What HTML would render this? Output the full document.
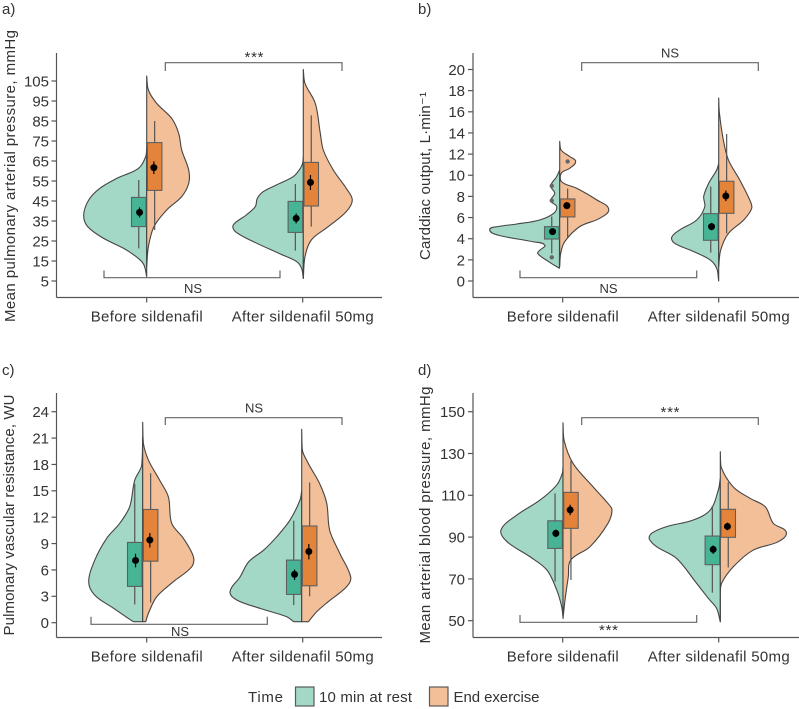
<!DOCTYPE html>
<html lang="en">
<head>
<meta charset="utf-8">
<title>Split violin plots: haemodynamics before and after sildenafil</title>
<style>
html,body{margin:0;padding:0;background:#fff;width:799px;height:709px;overflow:hidden}
svg{display:block}
text{font-family:"Liberation Sans",sans-serif;fill:#333}
.lab{font-size:15px}
.sig{font-size:13px}
.bracket{fill:none;stroke:#666;stroke-width:1.2}
</style>
</head>
<body>
<svg id="chart" width="799" height="709" viewBox="0 0 799 709" xmlns="http://www.w3.org/2000/svg">
  <text class="lab" x="2" y="14">a)</text>
  <text class="lab" x="418" y="14">b)</text>
  <text class="lab" x="2" y="375">c)</text>
  <text class="lab" x="418" y="375">d)</text>

  <text class="lab" text-anchor="middle" textLength="292" transform="translate(15,176) rotate(-90)">Mean pulmonary arterial pressure,  mmHg</text>
  <text class="lab" text-anchor="middle" textLength="168" transform="translate(430,176) rotate(-90)">Carddiac output, L·min⁻¹</text>
  <text class="lab" text-anchor="middle" textLength="241" transform="translate(14,515) rotate(-90)">Pulmonary vascular resistance, WU</text>
  <text class="lab" text-anchor="middle" textLength="257" transform="translate(430,515) rotate(-90)">Mean arterial blood pressure,  mmHg</text>

  <path class="bracket" d="M165.3 71V62.7H342V71"/>
  <text class="lab" text-anchor="middle" x="254" y="62" textLength="19">***</text>
  <path class="bracket" d="M104 270.5V277.7H280V270.5"/>
  <text class="sig" text-anchor="middle" x="193" y="293">NS</text>

  <path class="bracket" d="M581.7 71V62.7H758.3V71"/>
  <text class="sig" text-anchor="middle" x="670" y="57.5">NS</text>
  <path class="bracket" d="M520 270.5V277.7H696.7V270.5"/>
  <text class="sig" text-anchor="middle" x="608.5" y="293">NS</text>

  <path class="bracket" d="M165.3 425V417.7H342V425"/>
  <text class="sig" text-anchor="middle" x="254" y="412.5">NS</text>
  <path class="bracket" d="M91 616.7V624.3H267.3V616.7"/>
  <text class="sig" text-anchor="middle" x="180" y="636">NS</text>

  <path class="bracket" d="M581.7 425V417.7H758.3V425"/>
  <text class="lab" text-anchor="middle" x="670" y="417" textLength="19">***</text>
  <path class="bracket" d="M520 615V622.3H696.7V615"/>
  <text class="lab" text-anchor="middle" x="608.5" y="635" textLength="19">***</text>

  <g>
    <text class="lab" x="248" y="702" textLength="35">Time</text>
    <rect x="295.5" y="687" width="18.5" height="19" fill="#a3d7c6" stroke="#5a5a5a" stroke-width="1.2"/>
    <text class="lab" x="319" y="702" textLength="93">10 min at rest</text>
    <rect x="429.5" y="687" width="18.5" height="19" fill="#f3bf98" stroke="#5a5a5a" stroke-width="1.2"/>
    <text class="lab" x="453.5" y="702" textLength="86">End exercise</text>
  </g>
</svg>

<script>
// ---- shared categories ----
const categories = ["Before sildenafil", "After sildenafil 50mg"];

// ---- panel a: mean pulmonary arterial pressure ----
const aTicks = [5, 15, 25, 35, 45, 55, 65, 75, 85, 95, 105];
const aBeforeRestValue = [7.2, 13, 16.3, 21.3, 26.3, 32.2, 38, 45.5, 51.3, 56.3, 61.3, 67.2, 71.3];
const aBeforeRestDensity = [0, 2.7, 8.3, 23, 43, 59, 63, 58, 47, 30, 8.3, 1, 0];
const aBeforeExValue = [12.2, 22.2, 32.2, 40.5, 47.2, 53.8, 60.5, 70.5, 78.8, 86.3, 93.8, 100.5, 107.5];
const aBeforeExDensity = [0, 1.7, 7.3, 20, 35, 42, 42, 35, 32, 25, 10, 1.7, 0];
const aAfterRestValue = [6.3, 11.3, 14.7, 18.5, 24.7, 29.7, 33, 38, 42.2, 46.3, 49.7, 53, 57.2, 61.3, 63.8, 67];
const aAfterRestDensity = [0, 1.7, 6.7, 23, 50, 68, 70, 57, 48, 46, 40, 27, 10, 3, 0.7, 0];
const aAfterExValue = [6.3, 17.2, 25.5, 32.2, 39.7, 45.5, 51.3, 60.5, 70.5, 78.8, 93.8, 103.8, 110.8];
const aAfterExDensity = [0, 1.7, 8, 25, 43, 49, 43, 30, 20, 17, 12, 1.7, 0];
// box stats: q1, q3, whisker low, whisker high, mean, mean error low, mean error high
const aBeforeRestBox = [32.2, 46.8, 21.3, 55.5, 39.3, 36.8, 41.8];
const aBeforeExBox = [50.3, 74.2, 30.5, 85, 61.7, 58.5, 64.8];
const aAfterRestBox = [29.3, 44.8, 20.2, 53.5, 36.3, 33.8, 38.8];
const aAfterExBox = [42.5, 64.3, 32.2, 87.8, 54.3, 50.5, 58];

// ---- panel b: cardiac output ----
const bTicks = [0, 2, 4, 6, 8, 10, 12, 14, 16, 18, 20];
const bBeforeRestValue = [1.2, 1.83, 2.6, 2.9, 3.4, 3.7, 4.35, 4.85, 5.14, 5.39, 5.77, 6.4, 7.03, 7.6, 8.3, 9, 9.87, 10.5];
const bBeforeRestDensity = [0.3, 11, 22, 20, 15, 26, 62, 70, 62, 43, 20, 6, 3, 9, 5, 9, 3, 0];
const bBeforeExValue = [1.36, 2.62, 3.72, 5.14, 5.93, 6.78, 7.67, 8.77, 9.4, 10.2, 10.66, 11.3, 11.77, 12.4, 13.2];
const bBeforeExDensity = [0, 1, 5, 20, 40, 49, 37, 17, 1.7, 1.7, 10, 16, 10, 1.3, 0];
const bAfterRestValue = [0, 1.2, 2, 2.78, 3.56, 4.13, 4.83, 5.77, 7, 8, 9.24, 10.5, 11.1];
const bAfterRestDensity = [0, 2, 8.7, 25, 44, 47, 39, 22, 14, 15, 10, 2, 0];
const bAfterExValue = [1.36, 2.93, 4.5, 5.77, 6.88, 7.67, 9.56, 11.45, 13.3, 15.9, 17.3];
const bAfterExDensity = [0, 2, 9.7, 25, 33, 31, 21, 9.7, 4.7, 0.7, 0];
const bBeforeRestBox = [3.97, 5.14, 2.6, 6.1, 4.67, 4.4, 4.95];
const bBeforeExBox = [6.06, 7.76, 4.04, 8.74, 7.13, 6.8, 7.45];
const bAfterRestBox = [3.85, 6.37, 2.68, 8.93, 5.14, 4.8, 5.5];
const bAfterExBox = [6.4, 9.43, 4.5, 13.9, 8.04, 7.55, 8.55];
const bBeforeRestOutliers = [2.24, 7.6, 9];
const bBeforeExOutliers = [11.3];

// ---- panel c: pulmonary vascular resistance ----
const cTicks = [0, 3, 6, 9, 12, 15, 18, 21, 24];
const cBeforeRestValue = [0.11, 0.11, 0.23, 1.63, 3.14, 4.66, 7.1, 9.6, 11.3, 13.2, 16.2, 17.9, 21.1];
const cBeforeRestDensity = [0, 9, 11, 29, 48, 54, 48, 36, 23, 13, 8, 1, 0];
const cBeforeExValue = [0.11, 0.11, 1.06, 2.95, 4.66, 6.36, 7.5, 9.6, 11.3, 14.3, 16.2, 18.5, 20.4, 22.8];
const cBeforeExDensity = [0, 3, 5.7, 14, 30.7, 49, 50.7, 40.7, 29, 25.7, 17, 5.7, 0.7, 0];
const cAfterRestValue = [0.11, 0.11, 0.68, 1.63, 2.58, 3.52, 5.2, 6.93, 8.26, 9.77, 11.67, 13.94, 15];
const cAfterRestDensity = [0, 8, 15, 41.7, 65, 71.7, 61.7, 53, 38, 25, 11.7, 1.7, 0];
const cAfterExValue = [0.11, 0.11, 1.25, 2.4, 4.1, 5.2, 7.9, 10.5, 13.6, 15.8, 18.1, 19.6, 22];
const cAfterExDensity = [0, 6.7, 15, 26.7, 45, 49, 38, 28, 25, 18, 6.7, 0.7, 0];
const cBeforeRestBox = [4.13, 9.13, 2.08, 15.8, 7.08, 6.3, 7.84];
const cBeforeExBox = [7, 12.88, 2.3, 17, 9.4, 8.56, 10.2];
const cAfterRestBox = [3.22, 7.12, 2, 11.6, 5.5, 4.85, 6.05];
const cAfterExBox = [4.2, 11, 3, 15.95, 8.1, 7.2, 8.95];

// ---- panel d: mean arterial blood pressure ----
const dTicks = [50, 70, 90, 110, 130, 150];
const dBeforeRestValue = [51.9, 56.7, 64.7, 74.2, 80.6, 87.8, 93.4, 100.6, 107.7, 114.9, 120.5, 123.7];
const dBeforeRestDensity = [0, 1.3, 6.3, 16, 33, 56, 62, 46, 23, 6.3, 0.7, 0];
const dBeforeExValue = [51, 59.9, 71, 79, 85.4, 96.6, 103, 106.1, 114.1, 125.3, 136.4, 144.7];
const dBeforeExDensity = [0, 2, 5.3, 7.7, 27, 45, 49, 45, 30, 10, 1, 0];
const dAfterRestValue = [49.5, 55.9, 60.7, 68.7, 79.8, 85.4, 89.1, 91.8, 95, 98.2, 103, 112.5, 118];
const dAfterRestDensity = [0, 3.7, 12, 25, 43.7, 63.7, 71, 68.7, 53.7, 27, 10, 2, 0];
const dAfterExValue = [49.5, 63, 67.9, 75.8, 83.8, 87.8, 92.3, 96.6, 104.5, 108.5, 114, 123.7, 130.9];
const dAfterExDensity = [0, 0, 1.3, 13, 33, 58, 66, 53, 45, 30, 13, 0.7, 0];
const dBeforeRestBox = [84.6, 97.8, 68.7, 110.9, 91.8, 90, 93.6];
const dBeforeExBox = [94.2, 111.4, 69.5, 126.4, 103, 100.5, 105.5];
const dAfterRestBox = [76.8, 90.5, 63.4, 104.9, 84.1, 82, 86];
const dAfterExBox = [89.9, 103.3, 75.5, 116.2, 95.1, 93.3, 96.9];

// ---- layout (pixel geometry only, no data) ----
const layouts = [
  {id:'a', axisX:56.5, axisTop:53, axisBottom:297.5, axisRight:382, tickRight:49, catX:[146.7,302.7], centerShift:[0,0.6], v0:5, p0:281, v1:105, p1:81, ticks:aTicks,
   series:[[aBeforeRestValue,aBeforeRestDensity,aBeforeRestBox,[]],[aBeforeExValue,aBeforeExDensity,aBeforeExBox,[]],[aAfterRestValue,aAfterRestDensity,aAfterRestBox,[]],[aAfterExValue,aAfterExDensity,aAfterExBox,[]]]},
  {id:'b', axisX:473, axisTop:53, axisBottom:297.5, axisRight:799, tickRight:465, catX:[562.7,718.7], centerShift:[-3,0], v0:0, p0:281, v1:20, p1:69.5, ticks:bTicks,
   series:[[bBeforeRestValue,bBeforeRestDensity,bBeforeRestBox,bBeforeRestOutliers],[bBeforeExValue,bBeforeExDensity,bBeforeExBox,bBeforeExOutliers],[bAfterRestValue,bAfterRestDensity,bAfterRestBox,[]],[bAfterExValue,bAfterExDensity,bAfterExBox,[]]]},
  {id:'c', axisX:56.5, axisTop:393, axisBottom:637.5, axisRight:382, tickRight:49, catX:[146.7,302.7], centerShift:[-4,-1], v0:0, p0:622.7, v1:24, p1:411.7, ticks:cTicks,
   series:[[cBeforeRestValue,cBeforeRestDensity,cBeforeRestBox,[]],[cBeforeExValue,cBeforeExDensity,cBeforeExBox,[]],[cAfterRestValue,cAfterRestDensity,cAfterRestBox,[]],[cAfterExValue,cAfterExDensity,cAfterExBox,[]]]},
  {id:'d', axisX:473, axisTop:393, axisBottom:637.5, axisRight:799, tickRight:465, catX:[562.7,718.7], centerShift:[0.3,1.6], v0:50, p0:620.7, v1:150, p1:411.7, ticks:dTicks,
   series:[[dBeforeRestValue,dBeforeRestDensity,dBeforeRestBox,[]],[dBeforeExValue,dBeforeExDensity,dBeforeExBox,[]],[dAfterRestValue,dAfterRestDensity,dAfterRestBox,[]],[dAfterExValue,dAfterExDensity,dAfterExBox,[]]]}
];

const SVGNS = 'http://www.w3.org/2000/svg';
const root = document.getElementById('chart');
const BOX_W = 14.5, BOX_GAP = 0.7, AXIS_COLOR = '#555', DENSITY_K = 1;
const FILLS = ['#a3d7c6', '#f3bf98'];
const BOX_FILLS = ['#47b595', '#e3843a'];

function make(tag, attrs, parent, text) {
  const el = document.createElementNS(SVGNS, tag);
  for (const k in attrs) el.setAttribute(k, attrs[k]);
  if (text !== undefined) el.textContent = text;
  parent.appendChild(el);
  return el;
}

function yScale(L) {
  return v => L.p0 + (v - L.v0) * (L.p1 - L.p0) / (L.v1 - L.v0);
}

// smooth half-violin outline (chord-length Hermite spline), closed along the centre line
function violinPath(cx, side, values, density, y) {
  let pts = values.map((v, i) => [Math.max(0, density[i]) * DENSITY_K, y(v)]);
  const fmt = (a, b) => (cx + side * Math.max(0, a)).toFixed(2) + ' ' + b.toFixed(2);
  let d = 'M' + fmt(pts[0][0], pts[0][1]);
  if (values[0] === values[1]) {           // truncated violin: flat base, then curve
    d += 'L' + fmt(pts[1][0], pts[1][1]);
    pts = pts.slice(1);
  }
  const dist = (p, q) => Math.hypot(p[0] - q[0], p[1] - q[1]);
  const tan = pts.map((p, i) => {
    const a = pts[Math.max(0, i - 1)], b = pts[Math.min(pts.length - 1, i + 1)];
    const len = dist(a, b) || 1;
    return [(b[0] - a[0]) / len, (b[1] - a[1]) / len];
  });
  for (let i = 0; i < pts.length - 1; i++) {
    const p = pts[i], q = pts[i + 1], s = dist(p, q) / 3;
    d += 'C' + fmt(p[0] + tan[i][0] * s, p[1] + tan[i][1] * s) + ' ' +
               fmt(q[0] - tan[i + 1][0] * s, q[1] - tan[i + 1][1] * s) + ' ' +
               fmt(q[0], q[1]);
  }
  return d + 'Z';
}

layouts.forEach(L => {
  const y = yScale(L);
  const g = make('g', {}, root);
  
  

  // violins first (rest + exercise for each category)
  L.series.forEach((s, i) => {
    const cat = Math.floor(i / 2), isEx = i % 2;
    const cx = L.catX[cat] + L.centerShift[cat];
    const side = isEx ? 1 : -1;
    const v = make('path', {d: violinPath(cx, side, s[0], s[1], y), fill: FILLS[isEx], stroke: '#444', 'stroke-width': 1.1, 'stroke-linejoin': 'round'}, g);
    
    
  });

  // whiskers, boxes, outliers and means
  L.series.forEach((s, i) => {
    const cat = Math.floor(i / 2), isEx = i % 2;
    const cx = L.catX[cat] + L.centerShift[cat];
    const box = s[2];
    const left = isEx ? cx + BOX_GAP : cx - BOX_GAP - BOX_W;
    const mid = left + BOX_W / 2;

    const w = make('line', {x1: mid, x2: mid, y1: y(box[2]), y2: y(box[3]), stroke: '#555', 'stroke-width': 1.2}, g);
    
    

    const r = make('rect', {x: left, width: BOX_W, y: y(box[1]), height: y(box[0]) - y(box[1]), fill: BOX_FILLS[isEx], stroke: '#5f5f5f', 'stroke-width': 1.1}, g);
    
    

    s[3].forEach(val => {
      const o = make('circle', {cx: mid, cy: y(val), r: 2.2, fill: '#666'}, g);
      
      
    });

    const dotX = mid + (isEx ? -0.8 : 0.8);
    const e = make('line', {x1: dotX, x2: dotX, y1: y(box[5]), y2: y(box[6]), stroke: '#000', 'stroke-width': 1.2}, g);
    
    

    const m = make('circle', {cx: dotX, cy: y(box[4]), r: 3.5, fill: '#000'}, g);
    
    
  });

  // axes
  const ay = make('line', {x1: L.axisX, x2: L.axisX, y1: L.axisTop, y2: L.axisBottom, stroke: AXIS_COLOR, 'stroke-width': 1.2}, g);
  
  

  const ax = make('line', {x1: L.axisX, x2: L.axisRight, y1: L.axisBottom, y2: L.axisBottom, stroke: AXIS_COLOR, 'stroke-width': 1.2}, g);
  
  

  L.ticks.forEach(val => {
    const tk = make('line', {x1: L.axisX - 5, x2: L.axisX, y1: y(val), y2: y(val), stroke: AXIS_COLOR, 'stroke-width': 1.2}, g);
    
    

    const tl = make('text', {x: L.tickRight, y: y(val) + 5.4, 'text-anchor': 'end', 'font-size': 15}, g, String(val));
    
    
  });

  categories.forEach((name, i) => {
    const cx = L.catX[i];
    const tk = make('line', {x1: cx, x2: cx, y1: L.axisBottom, y2: L.axisBottom + 5, stroke: AXIS_COLOR, 'stroke-width': 1.2}, g);
    
    

    const tl = make('text', {x: cx, y: L.axisBottom + 24, 'text-anchor': 'middle', 'font-size': 15, textLength: i ? 142 : 112}, g, name);
    
    
  });
});
</script>
</body>
</html>
